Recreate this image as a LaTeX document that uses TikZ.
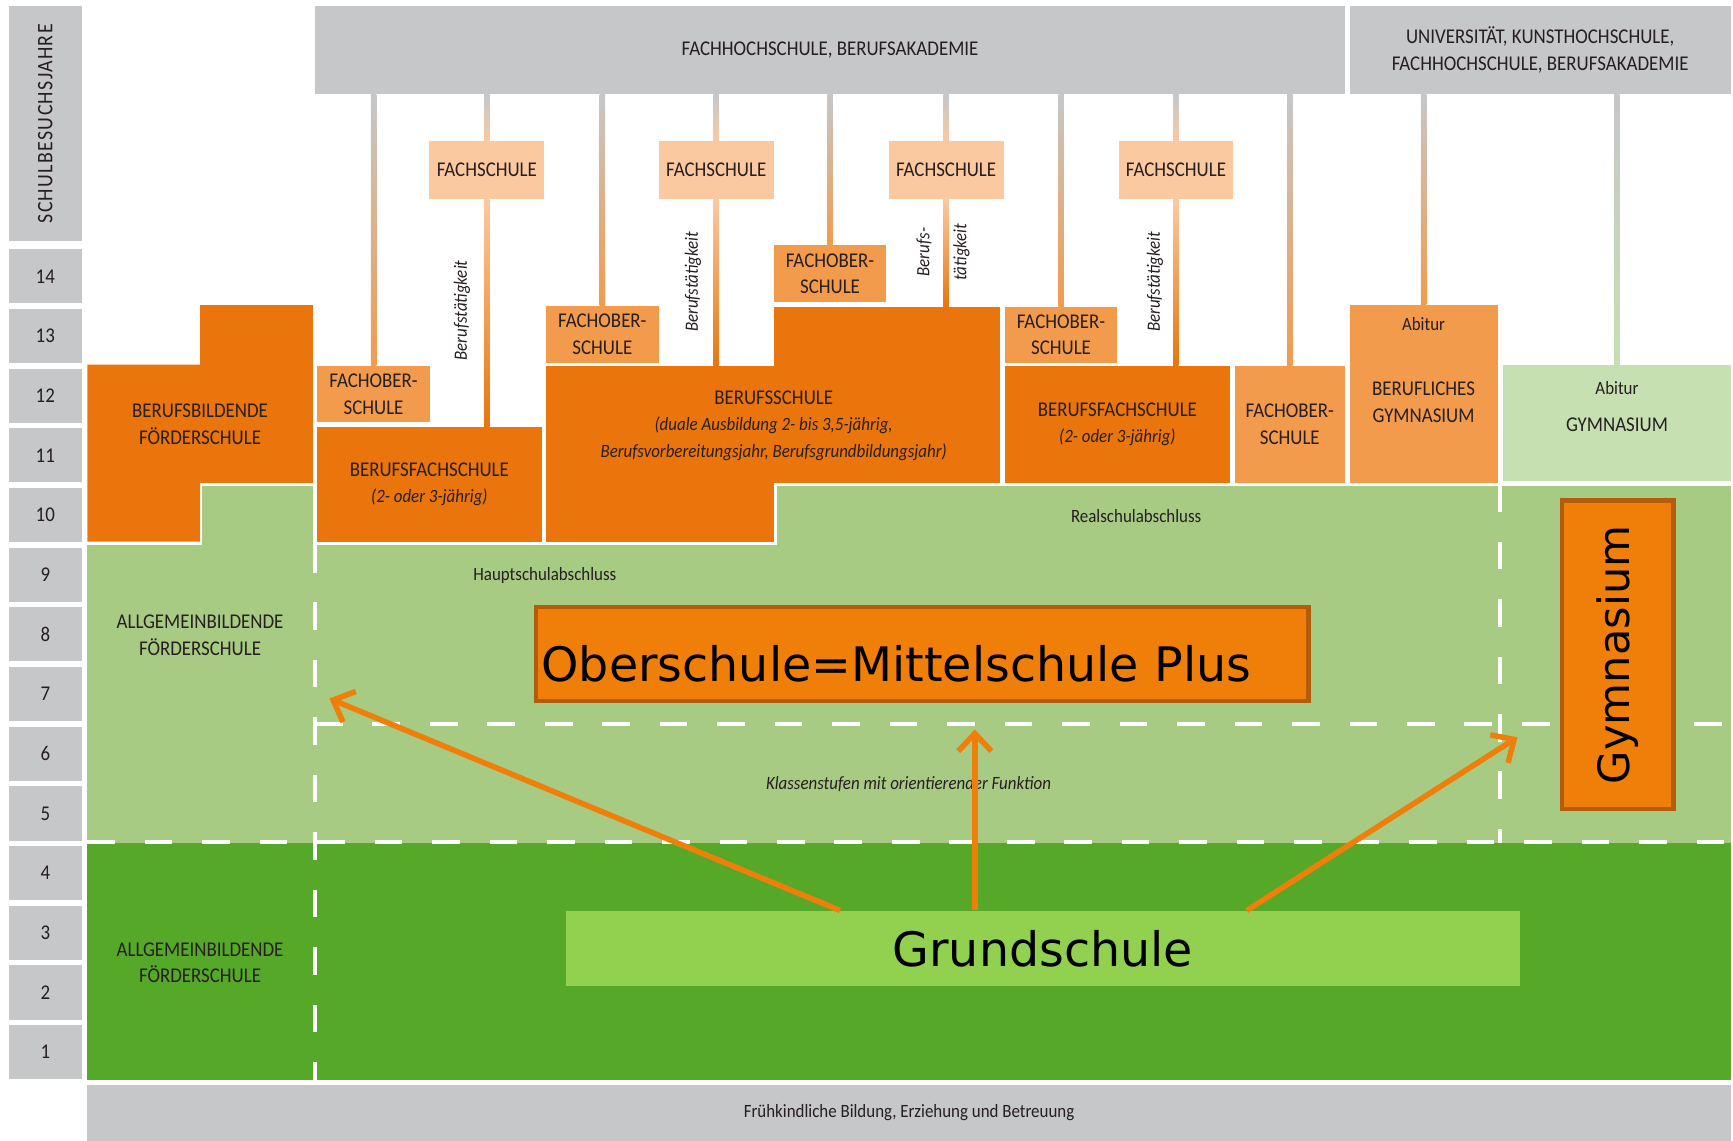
\documentclass[tikz,border=0pt]{standalone}
\usepackage{fontspec}
\setmainfont{Carlito}[FakeStretch=0.9]
\newfontfamily\bigfont{DejaVu Sans}
\usetikzlibrary{calc,arrows.meta}
\definecolor{cgray}{RGB}{198,199,201}
\definecolor{cdark}{RGB}{233,117,12}
\definecolor{cmid}{RGB}{242,155,76}
\definecolor{clight}{RGB}{251,201,160}
\definecolor{cgreen}{RGB}{168,203,132}
\definecolor{cpale}{RGB}{198,224,177}
\definecolor{cdeep}{RGB}{86,168,40}
\definecolor{cgrund}{RGB}{146,208,80}
\definecolor{cober}{RGB}{240,127,10}
\definecolor{cobrim}{RGB}{181,92,10}
\definecolor{ctext}{RGB}{38,30,32}
\newcommand{\capsfont}{\fontsize{19}{24}\selectfont}
\newcommand{\smallfont}{\fontsize{17}{22}\selectfont}

\begin{document}
\begin{tikzpicture}[x=1pt,y=-1pt,
  every node/.style={text=ctext, inner sep=0pt, align=center, font=\capsfont},
  cell/.style={fill=cgray, minimum width=66pt, minimum height=49pt},
  box/.style={fill=#1, minimum width=102pt, minimum height=51pt},
  note/.style={font=\smallfont},
  job/.style={rotate=90, font=\smallfont\itshape},
  link/.style={top color=cgray, bottom color=#1},
  drop/.style={top color=clight, bottom color=cdark},
  dashline/.style={white, line width=4pt, dash pattern=on 25pt off 27pt},
  big/.style={text=black, font=\bigfont\fontsize{43}{50}\selectfont},
  arrowline/.style={draw=cober, line width=5pt, -{Straight Barb[length=16pt,width=30pt]}}]
\useasboundingbox (0,0) rectangle (1568,1032);
\fill[cdeep] (79,763) rectangle (1566,977);
\fill[cgreen] (79,493) rectangle (1566,763);
\fill[cgreen] (183,440) rectangle (283,493);
\fill[cgreen] (703,440) rectangle (1566,493);
\draw[dashline] (285,493) -- (285,977);
\draw[dashline] (79,762) -- (1566,762);
\draw[dashline] (285,655) -- (1566,655);
\draw[dashline] (1357,438) -- (1357,763);
\draw[dashline] (1357,438) -- (1566,438);

\node[cell, rotate=90, minimum width=213pt, minimum height=66pt, font=\fontsize{20}{24}\selectfont\addfontfeature{LetterSpace=6}] (yhead) at (41,112) {SCHULBESUCHSJAHRE};
\node[cell] (y14) at (41,250) {14};
\node[cell] (y13) at (41,304) {13};
\node[cell] (y12) at (41,358) {12};
\node[cell] (y11) at (41,412) {11};
\node[cell] (y10) at (41,466) {10};
\node[cell] (y9) at (41,520) {9};
\node[cell] (y8) at (41,574) {8};
\node[cell] (y7) at (41,628) {7};
\node[cell] (y6) at (41,682) {6};
\node[cell] (y5) at (41,736) {5};
\node[cell] (y4) at (41,790) {4};
\node[cell] (y3) at (41,844) {3};
\node[cell] (y2) at (41,898) {2};
\node[cell] (y1) at (41,952) {1};

\fill[cdark] (79,330) -- (181,330) -- (181,276) -- (283,276) -- (283,437) -- (181,437) -- (181,490) -- (79,490) -- cycle;
\node (bff) at (181,384) {BERUFSBILDENDE\\FÖRDERSCHULE};
\node (afs1) at (181,575) {ALLGEMEINBILDENDE\\FÖRDERSCHULE};
\node (afs2) at (181,871) {ALLGEMEINBILDENDE\\FÖRDERSCHULE};

\node[box=cdark, minimum width=206pt, minimum height=159pt] (bsl) at (597,410.5) {};
\node[box=cdark, minimum width=205pt, minimum height=159pt] (bsr) at (802.5,357.5) {};
\node (bstext) at (700,385) {BERUFSSCHULE\\{\smallfont\itshape (duale Ausbildung 2- bis 3,5-jährig,}\\{\smallfont\itshape Berufsvorbereitungsjahr, Berufsgrundbildungsjahr)}};
\node[box=cdark, minimum width=203pt, minimum height=104pt] (bfs1) at (388.5,438) {BERUFSFACHSCHULE\\{\smallfont\itshape (2- oder 3-jährig)}};
\node[box=cdark, minimum width=204pt, minimum height=106pt] (bfs2) at (1011,384) {BERUFSFACHSCHULE\\{\smallfont\itshape (2- oder 3-jährig)}};

\node[box=cmid] (fos1) at (338,356.5) {FACHOBER-\\SCHULE};
\node[box=cmid] (fos2) at (545,302.5) {FACHOBER-\\SCHULE};
\node[box=cmid] (fos3) at (751,247.5) {FACHOBER-\\SCHULE};
\node[box=cmid] (fos4) at (960,303) {FACHOBER-\\SCHULE};
\node[box=cmid, minimum width=100pt, minimum height=106pt] (fos5) at (1167,384) {FACHOBER-\\SCHULE};

\node[box=clight, minimum width=104pt, minimum height=52pt] (fs1) at (440.5,154) {FACHSCHULE};
\node[box=clight, minimum width=104pt, minimum height=52pt] (fs2) at (648,154) {FACHSCHULE};
\node[box=clight, minimum width=104pt, minimum height=52pt] (fs3) at (856,154) {FACHSCHULE};
\node[box=clight, minimum width=104pt, minimum height=52pt] (fs4) at (1064,154) {FACHSCHULE};

\node[box=cmid, minimum width=134pt, minimum height=161pt] (bgym) at (1288,356.5) {};
\node[note] (bgymab) at (1288,293) {Abitur};
\node (bgymtx) at (1288,364) {BERUFLICHES\\GYMNASIUM};
\node[box=cpale, minimum width=206pt, minimum height=105pt] (gym) at (1463,382.5) {};
\node[note] (gymab) at (1463,351) {Abitur};
\node (gymtx) at (1463,384) {GYMNASIUM};

\node[box=cgray, minimum width=932pt, minimum height=80pt] (fhs) at (751,45) {FACHHOCHSCHULE, BERUFSAKADEMIE};
\node[box=cgray, minimum width=345pt, minimum height=80pt] (uni) at (1393.5,45) {UNIVERSITÄT, KUNSTHOCHSCHULE,\\FACHHOCHSCHULE, BERUFSAKADEMIE};
\node[box=cgray, minimum width=1487pt, minimum height=50pt, note] (kita) at (822.5,1007) {Frühkindliche Bildung, Erziehung und Betreuung};

\shade[link=cmid] ($(fos1.north)+(-2.5,0)$) rectangle ($(fos1.north |- fhs.south)+(2.5,0)$);
\shade[link=clight] ($(fs1.north)+(-2.5,0)$) rectangle ($(fs1.north |- fhs.south)+(2.5,0)$);
\shade[link=cmid] ($(fos2.north)+(-2.5,0)$) rectangle ($(fos2.north |- fhs.south)+(2.5,0)$);
\shade[link=clight] ($(fs2.north)+(-2.5,0)$) rectangle ($(fs2.north |- fhs.south)+(2.5,0)$);
\shade[link=cmid] ($(fos3.north)+(-2.5,0)$) rectangle ($(fos3.north |- fhs.south)+(2.5,0)$);
\shade[link=clight] ($(fs3.north)+(-2.5,0)$) rectangle ($(fs3.north |- fhs.south)+(2.5,0)$);
\shade[link=cmid] ($(fos4.north)+(-2.5,0)$) rectangle ($(fos4.north |- fhs.south)+(2.5,0)$);
\shade[link=clight] ($(fs4.north)+(-2.5,0)$) rectangle ($(fs4.north |- fhs.south)+(2.5,0)$);
\shade[link=cmid] ($(fos5.north)+(-2.5,0)$) rectangle ($(fos5.north |- fhs.south)+(2.5,0)$);
\shade[link=cmid] ($(bgym.north)+(-2.5,0)$) rectangle ($(bgym.north |- uni.south)+(2.5,0)$);
\shade[link=cpale] ($(gym.north)+(-2.5,0)$) rectangle ($(gym.north |- uni.south)+(2.5,0)$);
\shade[drop] ($(fs1.south)+(-2.5,0)$) rectangle ($(fs1.south |- bfs1.north)+(2.5,0)$);
\shade[drop] ($(fs2.south)+(-2.5,0)$) rectangle ($(fs2.south |- bsl.north)+(2.5,0)$);
\shade[drop] ($(fs3.south)+(-2.5,0)$) rectangle ($(fs3.south |- bsr.north)+(2.5,0)$);
\shade[drop] ($(fs4.south)+(-2.5,0)$) rectangle ($(fs4.south |- bfs2.north)+(2.5,0)$);

\node[job] (bt1) at (418,281) {Berufstätigkeit};
\node[job] (bt2) at (627,255) {Berufstätigkeit};
\node[job] (bt3) at (836,228) {Berufs-};
\node[job] (bt4) at (870,228) {tätigkeit};
\node[job] (bt5) at (1045,255) {Berufstätigkeit};

\node[note] (haupt) at (493,521) {Hauptschulabschluss};
\node[note] (real) at (1028,467) {Realschulabschluss};
\node[font=\smallfont\itshape] (orient) at (822,709) {Klassenstufen mit orientierender Funktion};

\node[big, fill=cober, draw=cobrim, line width=4pt, text width=689pt, text height=50pt, minimum height=85pt, align=left, inner xsep=5pt] (ober) at (834.5,591.5) {Oberschule=Mittelschule Plus};
\node[big, fill=cgrund, minimum width=863pt, minimum height=68pt] (grund) at (943.5,858) {Grundschule};
\node[big, fill=cober, draw=cobrim, line width=4pt, rotate=90, minimum width=279pt, minimum height=101pt, font=\bigfont\fontsize{39}{46}\selectfont] (gymbig) at (1463.5,592.5) {Gymnasium};

\coordinate (hsend) at (298,632);
\coordinate (osend) at (882,660);
\coordinate (gyend) at (1373,667);
\draw[arrowline] ([xshift=-183.5pt]grund.north) -- (hsend);
\draw[arrowline] (osend |- grund.north) -- (osend);
\draw[arrowline] ([xshift=184.5pt]grund.north) -- (gyend);
\end{tikzpicture}
\end{document}
